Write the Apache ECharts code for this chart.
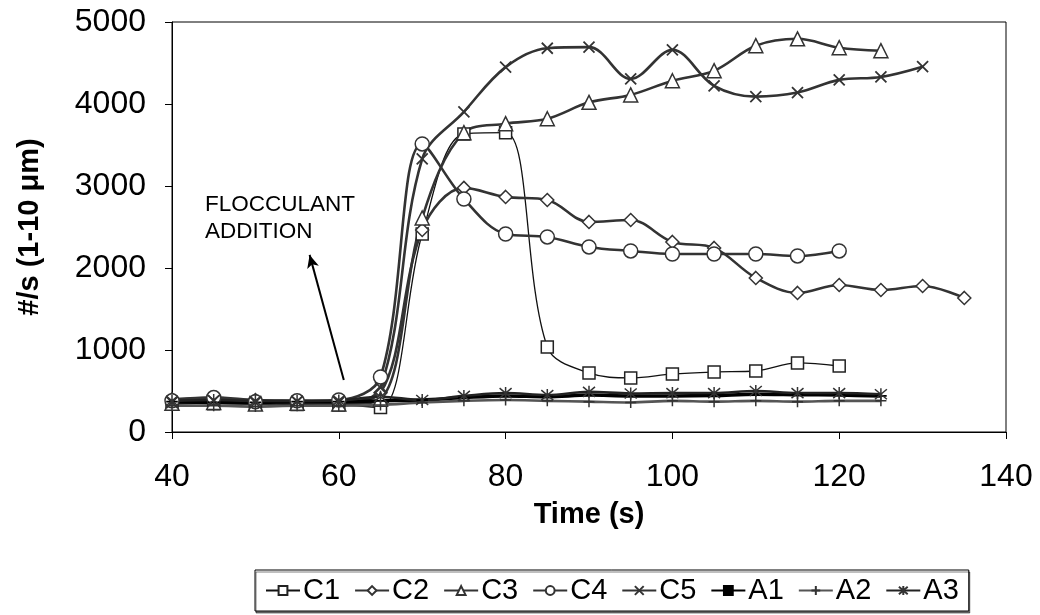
<!DOCTYPE html>
<html>
<head>
<meta charset="utf-8">
<script src="https://cdn.jsdelivr.net/npm/echarts@6/dist/echarts.min.js"></script>
<style>
html,body{margin:0;padding:0;background:#fff;}
#chart{width:1040px;height:615px;}
</style>
</head>
<body>
<div id="chart"></div>
<script>
// ---- data ----
const time = [40,45,50,55,60,65,70,75,80,85,90,95,100,105,110,115,120,125,130,135];
const C1 = [340,345,340,335,330,300,2415,3634,3650,1037,720,660,708,732,744,842,805];
const C2 = [400,420,390,380,370,480,2464,2977,2867,2830,2562,2586,2318,2245,1879,1696,1793,1732,1781,1635];
const C3 = [350,360,340,350,340,400,2610,3650,3760,3820,4020,4111,4284,4406,4711,4795,4687,4650];
const C4 = [380,420,370,380,390,671,3513,2842,2415,2379,2257,2208,2171,2171,2171,2147,2208];
const C5 = [360,380,360,370,360,540,3330,3904,4450,4680,4693,4306,4660,4221,4090,4140,4294,4330,4455];
const A1 = [370,360,360,370,370,380,390,420,440,430,450,440,440,445,460,455,450,440];
const A2 = [320,320,310,320,320,330,360,380,390,380,370,360,380,370,380,370,380,380];
const A3 = [380,390,380,380,385,430,390,440,475,450,490,470,475,475,500,475,475,460];
const xTicks = {min:40, max:140, interval:20};
const yTicks = {min:0, max:5000, interval:1000};
const arrowFrom = [60.6, 634];
const arrowTo = [56.5, 2160];

const FONT = 'Liberation Sans, Arial, sans-serif';
function pairs(vals){ return vals.map((v,i)=>[time[i], v]); }

const X_PATH = 'path://M0,0L10,10M10,0L0,10';
const PLUS_PATH = 'path://M5,0L5,10M0,5L10,5';
const STAR_PATH = 'path://M0,0L10,10M10,0L0,10M5,-1L5,11';
const DASH_PATH = 'path://M0,0L10,0L10,3L0,3Z';

function mk(name, vals, symbol, size, opts){
  opts = opts || {};
  return Object.assign({
    name: name,
    type: 'line',
    data: pairs(vals),
    smooth: 0.35,
    symbol: symbol,
    symbolSize: size,
    showAllSymbol: true,
    lineStyle: {color: opts.lineColor || '#333', width: opts.lineWidth || 2.6},
    itemStyle: {color: opts.fill || '#fff', borderColor: opts.border || '#333', borderWidth: opts.bw || 1.5},
    emphasis: {disabled: true}
  }, opts.extra || {});
}

const series = [
  mk('C1', C1, 'rect', 12, {lineColor:'#111', lineWidth:1.3, border:'#222'}),
  mk('C2', C2, 'diamond', 13),
  mk('C3', C3, 'triangle', 14),
  mk('C4', C4, 'circle', 14),
  mk('C5', C5, X_PATH, 11, {bw:1.8}),
  mk('A1', A1, DASH_PATH, [9,3], {lineColor:'#000', lineWidth:3.5, fill:'#000', border:'#000', bw:0,
    extra:{symbolKeepAspect:true, markLine:{
      silent:true, animation:false,
      symbol:['none','arrow'], symbolSize:[9,13],
      label:{show:false},
      lineStyle:{color:'#000', width:2, type:'solid'},
      data:[[{coord:arrowFrom},{coord:arrowTo}]]
    }}}),
  mk('A2', A2, PLUS_PATH, 11, {lineColor:'#555', fill:'none', border:'#333', bw:1.5}),
  mk('A3', A3, STAR_PATH, 12, {lineColor:'#222', fill:'none', border:'#333', bw:1.5})
];

const chart = echarts.init(document.getElementById('chart'));
chart.setOption({
  animation: false,
  backgroundColor: '#fff',
  textStyle: {fontFamily: FONT},
  grid: {left:172, right:34, top:22, bottom:183, show:true, borderColor:'#000', borderWidth:1, backgroundColor:'transparent'},
  xAxis: {
    type:'value', min:xTicks.min, max:xTicks.max, interval:xTicks.interval,
    name:'Time (s)', nameLocation:'middle', nameGap:68,
    nameTextStyle:{fontFamily:FONT, fontSize:29, fontWeight:'bold', color:'#000'},
    axisLine:{show:true, onZero:false, lineStyle:{color:'#000', width:1}},
    axisTick:{show:true, inside:false, length:7, lineStyle:{color:'#000'}},
    axisLabel:{fontFamily:FONT, fontSize:32, color:'#000', margin:29, formatter:(v)=>String(v)},
    splitLine:{show:false}
  },
  yAxis: {
    type:'value', min:yTicks.min, max:yTicks.max, interval:yTicks.interval,
    name:'#/s (1-10 μm)', nameLocation:'middle', nameGap:128, nameRotate:90,
    nameTextStyle:{fontFamily:FONT, fontSize:29, fontWeight:'bold', color:'#000'},
    axisLine:{show:true, lineStyle:{color:'#000', width:1}},
    axisTick:{show:true, inside:false, length:7, lineStyle:{color:'#000'}},
    axisLabel:{fontFamily:FONT, fontSize:32, color:'#000', margin:26, formatter:(v)=>String(v)},
    splitLine:{show:false}
  },
  legend: {
    left:255, top:570,
    orient:'horizontal',
    itemWidth:34, itemHeight:11, itemGap:14,
    padding:[6,10,6,10],
    borderColor:'#000', borderWidth:1,
    backgroundColor:'#fff',
    shadowColor:'rgba(0,0,0,0.5)', shadowOffsetX:1, shadowOffsetY:2, shadowBlur:0,
    textStyle:{fontFamily:FONT, fontSize:29, color:'#000', padding:[0,0,0,-2]},
    data:['C1','C2','C3','C4','C5','A1','A2','A3']
  },
  graphic: [{
    type:'text', left:205, top:191, silent:true,
    style:{text:'FLOCCULANT\nADDITION', font:'22.5px ' + FONT, lineHeight:27, fill:'#000'}
  }],
  series: series
});
</script>
</body>
</html>
